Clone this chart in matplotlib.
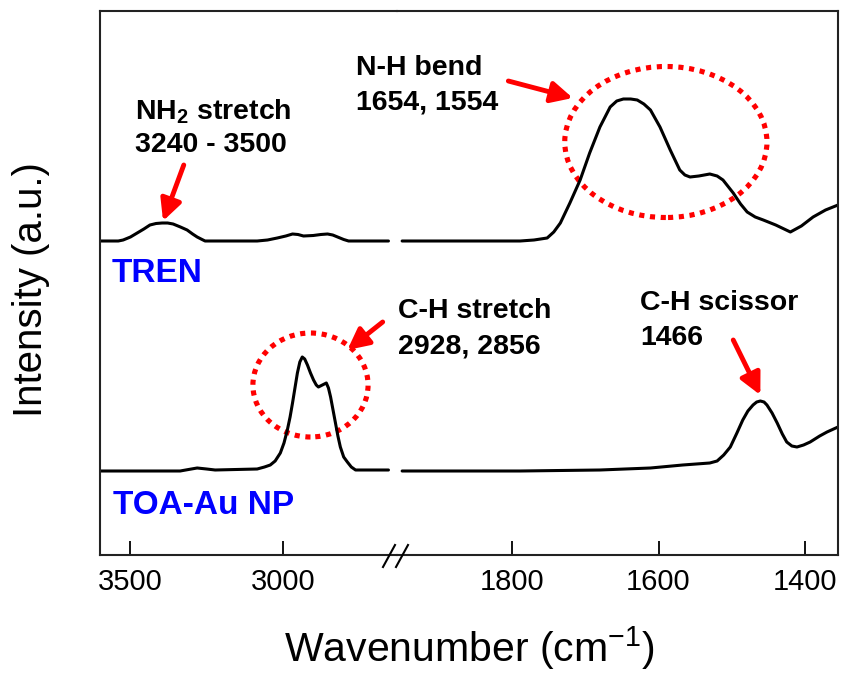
import numpy as np
import matplotlib
matplotlib.use("Agg")
import matplotlib.pyplot as plt
from matplotlib.patches import Ellipse

plt.rcParams['font.family'] = ['Liberation Sans', 'DejaVu Sans']
plt.rcParams['mathtext.fontset'] = 'custom'
plt.rcParams['mathtext.rm'] = 'Liberation Sans'
plt.rcParams['mathtext.bf'] = 'Liberation Sans:bold'

# high-wavenumber window (left panel)
wn_hi_tren = [3600, 3540, 3524, 3500, 3478, 3456, 3436, 3416, 3396, 3378, 3360,
              3336, 3314, 3296, 3281, 3265, 3255, 3084, 3050, 3018, 2990, 2968,
              2950, 2932, 2900, 2875, 2853, 2836, 2820, 2800, 2784, 2653]
tren_hi = [0, 0, 0.01, 0.04, 0.08, 0.12, 0.16, 0.175, 0.18, 0.18, 0.17,
           0.14, 0.11, 0.07, 0.04, 0.015, 0, 0, 0.01, 0.03, 0.05, 0.07,
           0.065, 0.05, 0.055, 0.065, 0.07, 0.06, 0.04, 0.015, 0, 0]

wn_hi_toa = [3600, 3337, 3300, 3281, 3250, 3222, 3084, 3060, 3041, 3025, 3008,
             2996, 2985, 2976, 2968, 2960, 2952, 2944, 2936, 2928, 2919, 2909,
             2899, 2890, 2883, 2870, 2857, 2850, 2843, 2835, 2827, 2819, 2811,
             2800, 2788, 2775, 2761, 2653]
toa_hi = [0, 0, 0.02, 0.03, 0.02, 0.01, 0.02, 0.04, 0.06, 0.10, 0.18,
          0.28, 0.41, 0.54, 0.68, 0.83, 0.98, 1.09, 1.14, 1.12, 1.06, 0.98,
          0.91, 0.86, 0.84, 0.86, 0.88, 0.83, 0.74, 0.61, 0.48, 0.35, 0.24,
          0.14, 0.09, 0.04, 0.01, 0.01]

# low-wavenumber window (right panel)
wn_lo_tren = [1950, 1789, 1770, 1752, 1743, 1734, 1721, 1707, 1694, 1680, 1666,
              1657, 1648, 1638, 1629, 1620, 1611, 1598, 1584, 1571, 1564, 1557,
              1545, 1530, 1520, 1512, 1498, 1488, 1479, 1468, 1457, 1440, 1420,
              1405, 1389, 1372, 1355]
tren_lo = [0, 0, 0.01, 0.03, 0.09, 0.18, 0.38, 0.61, 0.88, 1.14, 1.34,
           1.40, 1.42, 1.42, 1.41, 1.37, 1.31, 1.14, 0.91, 0.71, 0.66, 0.64,
           0.65, 0.67, 0.65, 0.61, 0.48, 0.37, 0.29, 0.24, 0.21, 0.16, 0.09,
           0.15, 0.24, 0.31, 0.36]

wn_lo_toa = [1950, 1789, 1680, 1611, 1567, 1530, 1520, 1511, 1502, 1493, 1485,
             1478, 1471, 1466, 1461, 1456, 1452, 1445, 1438, 1431, 1425, 1418,
             1411, 1402, 1393, 1380, 1370, 1355]
toa_lo = [0, 0, 0.01, 0.03, 0.06, 0.08, 0.10, 0.16, 0.24, 0.38, 0.51,
          0.60, 0.66, 0.69, 0.70, 0.69, 0.66, 0.58, 0.48, 0.37, 0.29, 0.25,
          0.24, 0.26, 0.29, 0.35, 0.39, 0.44]

tren_offset = 3.14
toa_offset = 0.84

fig = plt.figure(figsize=(8.41, 6.75), dpi=100)
W, H = 841, 675
bot = (H - 555) / H
hgt = 544 / H
ax1 = fig.add_axes([100 / W, bot, 297 / W, hgt])
ax2 = fig.add_axes([397 / W, bot, 441 / W, hgt])

for ax in (ax1, ax2):
    ax.set_facecolor('none')
    ax.set_ylim(0, 5.44)
    ax.set_yticks([])
    ax.tick_params(axis='x', direction='in', length=10, width=1.3,
                   labelsize=21, pad=9)
    for s in ax.spines.values():
        s.set_linewidth(1.5)
        s.set_color('#222222')

ax1.set_xlim(3600, 2625)
ax2.set_xlim(1957, 1355)
ax1.set_xticks([3500, 3000])
ax2.set_xticks([1800, 1600, 1400])
ax1.spines['right'].set_visible(False)
ax2.spines['left'].set_visible(False)

line = dict(color='black', lw=2.2, solid_joinstyle='round', solid_capstyle='round')
ax1.plot(wn_hi_tren, np.array(tren_hi) + tren_offset, **line)
ax1.plot(wn_hi_toa, np.array(toa_hi) + toa_offset, **line)
ax2.plot(wn_lo_tren, np.array(tren_lo) + tren_offset, **line)
ax2.plot(wn_lo_toa, np.array(toa_lo) + toa_offset, **line)

# axis break marks
for xc in (389, 402):
    fig.add_artist(plt.Line2D([(xc - 6) / W, (xc + 6) / W],
                              [(H - 567) / H, (H - 545) / H],
                              color='black', lw=1.5))

# annotations
red = '#ff0000'
dot = dict(edgecolor=red, facecolor='none', lw=3.7, linestyle=(0, (1, 1.1)))
ax1.add_patch(Ellipse((2909, 1.70), 378, 1.04, clip_on=False, **dot))
ax2.add_patch(Ellipse((1590, 4.13), 276, 1.51, clip_on=False, **dot))

arr = dict(arrowstyle='-|>', color=red, lw=3.5, mutation_scale=32,
           shrinkA=0, shrinkB=0)
ax1.annotate('', xy=(3393, 3.34), xytext=(3325, 3.90), arrowprops=arr)
ax1.annotate('', xy=(2788, 2.05), xytext=(2672, 2.33), arrowprops=arr,
             annotation_clip=False)
ax2.annotate('', xy=(1717, 4.57), xytext=(1805, 4.74), arrowprops=arr)
ax2.annotate('', xy=(1461, 1.60), xytext=(1498, 2.15), arrowprops=arr)

tk = dict(fontsize=20.5, fontweight='bold', va='center', ha='left')
ax1.text(3485, 4.43, r'NH$_\mathbf{2}$ stretch', **tk)
ax1.text(3485, 4.10, '3240 - 3500', **tk)
ax1.text(2761, 4.87, 'N-H bend', **tk)
ax1.text(2761, 4.53, '1654, 1554', **tk)
ax1.text(2623, 2.44, 'C-H stretch', **tk)
ax1.text(2623, 2.09, '2928, 2856', **tk)
ax2.text(1625, 2.52, 'C-H scissor', **tk)
ax2.text(1625, 2.17, '1466', **tk)

lab = dict(fontsize=24, fontweight='bold', color='#0000ff', va='center', ha='left')
ax1.text(3561, 2.82, 'TREN', **lab)
ax1.text(3557, 0.50, 'TOA-Au NP', **lab)

fig.text(469 / W, 1 - 648 / H, 'Wavenumber (cm$^{-1}$)', fontsize=29.5,
         ha='center', va='center')
fig.text(31 / W, 1 - 290 / H, 'Intensity (a.u.)', fontsize=29,
         ha='center', va='center', rotation=90)

fig.savefig('out.png', dpi=100)
